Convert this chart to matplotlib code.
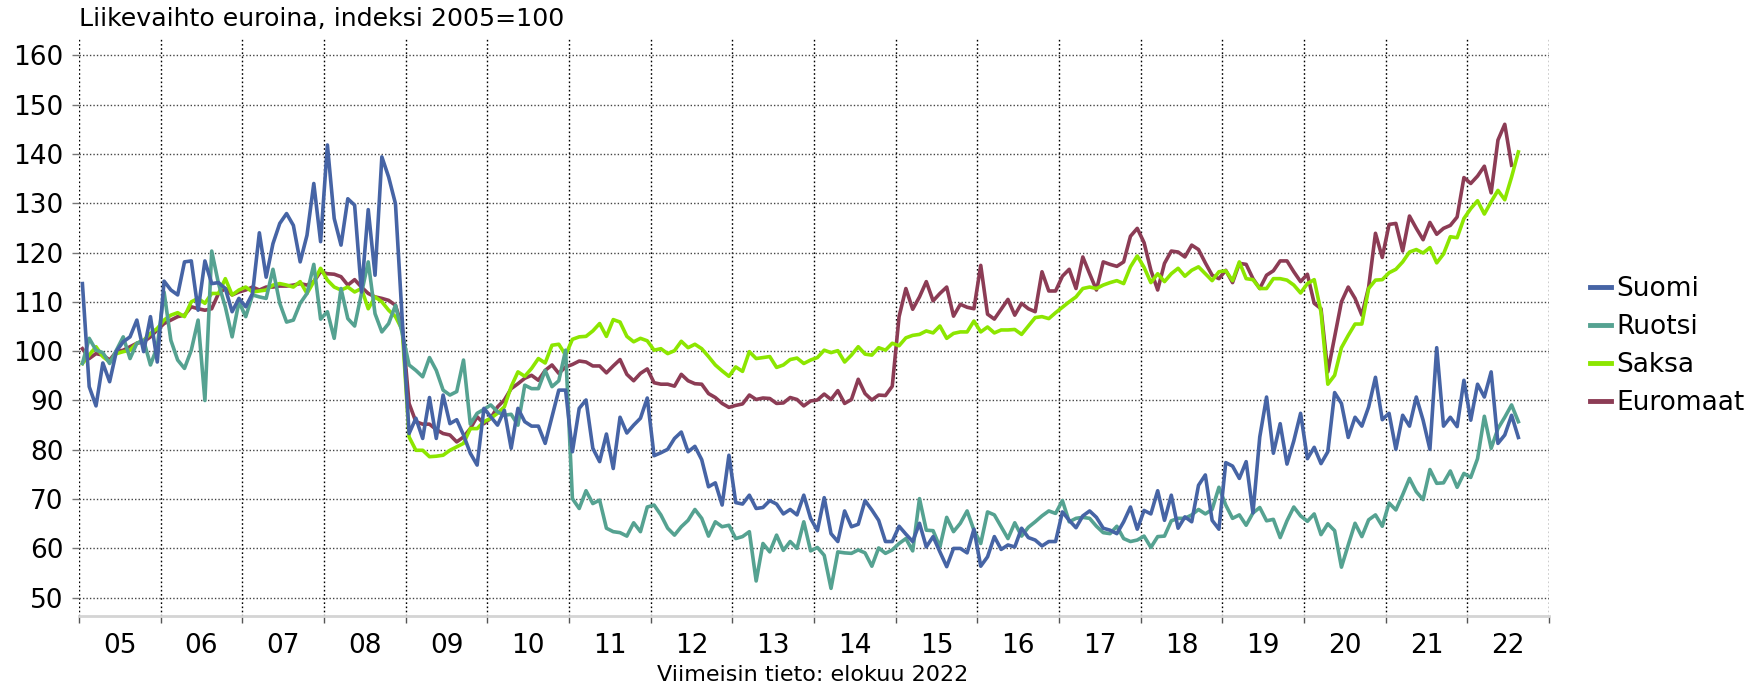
import matplotlib
matplotlib.use("Agg")
import matplotlib.pyplot as plt
import numpy as np

# Kuukausittaiset indeksit 2005/01 - 2022/08 (Euromaat 2022/07 asti)
suomi = [
    113.7, 92.8, 88.9, 97.6, 93.8, 100.0, 101.9, 102.9, 106.3, 99.9, 107.0, 97.8,
    114.2, 112.4, 111.4, 118.1, 118.3, 108.3, 118.3, 113.7, 113.9, 112.7, 108.0, 110.7,
    109.0, 111.7, 124.0, 115.0, 121.8, 125.9, 127.9, 125.5, 118.1, 123.5, 134.0, 122.2,
    141.8, 126.9, 121.5, 130.9, 129.6, 112.0, 128.7, 115.4, 139.4, 135.3, 129.9, 106.3,
    83.3, 86.4, 82.3, 90.6, 82.3, 91.1, 85.3, 86.1, 83.0, 79.3, 76.9, 88.4,
    86.7, 85.0, 88.0, 80.3, 88.4, 85.7, 84.8, 84.8, 81.3, 86.7, 92.1, 92.1,
    79.6, 88.4, 90.1, 80.3, 77.6, 83.2, 76.2, 86.6, 83.4, 85.0, 86.4, 90.5,
    78.8, 79.4, 80.1, 82.3, 83.6, 79.6, 80.7, 78.0, 72.5, 73.3, 68.8, 78.9,
    69.3, 69.0, 70.8, 68.1, 68.3, 69.7, 69.0, 67.0, 67.9, 66.8, 70.8, 66.1,
    63.6, 70.3, 63.0, 61.4, 67.6, 64.4, 64.9, 69.7, 67.8, 65.7, 61.4, 61.4,
    64.5, 62.9, 61.4, 65.1, 60.3, 62.4, 59.3, 56.3, 60.0, 60.0, 59.1, 63.9,
    56.4, 58.3, 62.4, 59.8, 60.7, 60.3, 64.1, 62.2, 61.7, 60.5, 61.4, 61.4,
    67.4, 65.7, 64.2, 66.6, 67.6, 66.3, 64.1, 63.7, 63.0, 65.4, 68.4, 63.9,
    67.7, 67.0, 71.7, 65.7, 70.8, 64.1, 66.4, 65.4, 72.8, 74.9, 65.7, 63.9,
    77.4, 76.7, 74.2, 77.6, 67.2, 82.6, 90.7, 79.3, 85.3, 77.1, 81.8, 87.4,
    78.2, 80.5, 77.2, 79.6, 91.6, 89.4, 82.5, 86.6, 84.8, 88.7, 94.7, 86.1,
    87.4, 80.1, 87.0, 84.8, 90.7, 86.0, 80.1, 100.7, 84.8, 86.6, 84.7, 94.1,
    86.0, 93.3, 90.7, 95.8, 81.3, 83.0, 87.0, 82.5,
]
ruotsi = [
    97.5, 102.6, 100.2, 99.7, 97.5, 100.2, 102.9, 98.5, 101.6, 102.2, 97.2, 100.9,
    112.0, 102.2, 98.2, 96.5, 100.2, 106.3, 90.0, 120.3, 113.7, 109.0, 102.9, 110.0,
    107.0, 111.4, 111.0, 110.7, 116.6, 109.7, 105.9, 106.3, 109.7, 111.7, 117.6, 106.5,
    108.0, 102.6, 112.7, 106.6, 105.1, 111.7, 118.1, 107.6, 103.9, 105.6, 109.3, 103.6,
    97.2, 96.1, 94.8, 98.7, 96.1, 92.1, 91.1, 91.8, 98.2, 85.2, 87.4, 88.2,
    89.1, 87.7, 87.0, 87.2, 85.0, 93.1, 92.4, 92.4, 96.1, 92.8, 94.0, 100.2,
    70.1, 68.1, 71.7, 69.1, 69.8, 64.1, 63.4, 63.2, 62.5, 65.2, 63.4, 68.4,
    68.8, 66.8, 64.1, 62.7, 64.4, 65.7, 67.9, 66.1, 62.5, 65.4, 64.4, 64.7,
    62.0, 62.4, 63.4, 53.4, 61.0, 59.3, 62.7, 59.6, 61.4, 60.0, 65.4, 59.5,
    60.2, 58.6, 51.9, 59.3, 59.1, 59.0, 59.7, 59.1, 56.4, 60.1, 59.0, 59.7,
    61.0, 62.0, 59.5, 70.1, 63.7, 63.6, 60.3, 66.3, 63.4, 65.1, 67.6, 63.7,
    61.0, 67.4, 66.8, 64.4, 62.0, 65.2, 62.5, 64.3, 65.4, 66.6, 67.6, 67.1,
    69.7, 65.4, 66.1, 66.3, 66.1, 64.5, 63.2, 63.0, 64.5, 62.0, 61.4, 61.7,
    62.5, 60.2, 62.4, 62.5, 65.6, 66.1, 66.1, 66.8, 67.9, 67.0, 67.9, 72.4,
    68.8, 66.1, 66.8, 64.7, 67.2, 68.3, 65.6, 65.9, 62.2, 65.6, 68.4, 66.6,
    65.5, 67.0, 62.8, 65.0, 63.6, 56.2, 60.7, 65.1, 62.4, 65.8, 66.8, 64.5,
    69.2, 67.8, 70.9, 74.2, 71.5, 69.9, 76.0, 73.2, 73.3, 75.7, 72.4, 75.2,
    74.4, 78.2, 86.8, 80.3, 84.3, 86.6, 89.1, 85.7,
]
saksa = [
    97.5, 99.2, 100.9, 98.9, 97.8, 99.5, 99.9, 100.2, 101.6, 102.2, 103.6, 104.6,
    106.3, 107.3, 107.8, 107.0, 110.0, 110.7, 109.7, 111.7, 111.7, 114.7, 111.4, 112.4,
    113.0, 112.0, 112.2, 112.4, 113.4, 113.7, 113.4, 113.0, 114.1, 111.7, 114.1, 116.8,
    114.4, 113.0, 112.4, 113.0, 112.0, 112.7, 108.6, 111.0, 110.0, 108.3, 107.0, 104.3,
    82.6, 79.9, 79.9, 78.6, 78.7, 78.9, 79.9, 80.6, 81.3, 84.3, 84.3, 85.7,
    86.4, 87.4, 88.7, 92.8, 95.8, 94.9, 96.5, 98.5, 97.6, 101.2, 101.4, 99.2,
    102.4, 102.9, 103.0, 104.1, 105.6, 103.0, 106.4, 105.9, 103.0, 101.9, 102.6, 102.1,
    100.2, 100.5, 99.5, 100.1, 102.0, 100.7, 101.4, 100.5, 98.9, 97.2, 96.0, 94.9,
    96.8, 95.9, 99.9, 98.5, 98.7, 98.9, 96.7, 97.2, 98.3, 98.6, 97.5, 98.2,
    98.7, 100.2, 99.7, 100.1, 97.8, 99.2, 100.9, 99.4, 99.2, 100.7, 100.2, 101.6,
    101.1, 102.7, 103.2, 103.4, 104.1, 103.7, 105.1, 102.6, 103.6, 103.9, 103.9, 106.1,
    103.9, 104.9, 103.7, 104.3, 104.3, 104.4, 103.4, 105.1, 106.8, 107.0, 106.6, 107.8,
    108.9, 110.0, 111.0, 112.7, 113.0, 112.7, 113.4, 113.9, 114.3, 113.7, 117.1, 119.3,
    117.0, 113.9, 115.7, 114.1, 115.7, 116.8, 115.2, 116.4, 117.1, 115.7, 114.3, 116.1,
    116.3, 114.3, 118.1, 114.7, 114.5, 112.7, 112.7, 114.7, 114.7, 114.4, 113.4, 111.8,
    113.7, 114.5, 107.9, 93.3, 95.1, 100.7, 103.2, 105.5, 105.5, 112.7, 114.4, 114.5,
    115.9, 116.6, 118.1, 120.1, 120.6, 119.9, 121.0, 117.9, 119.7, 123.2, 123.0, 126.9,
    128.9, 130.5, 127.8, 130.3, 132.6, 130.7, 135.3, 140.4,
]
euromaat = [
    100.5, 98.5, 99.5, 99.2, 98.2, 99.9, 100.2, 100.9, 101.6, 101.9, 102.9, 104.3,
    105.6, 106.3, 107.0, 107.3, 109.0, 108.6, 108.3, 108.6, 111.7, 112.7, 111.4, 112.0,
    112.4, 113.0, 112.4, 113.0, 113.0, 113.2, 113.2, 113.4, 113.7, 113.4, 114.1, 116.1,
    115.7, 115.6, 115.1, 113.4, 114.5, 113.0, 111.7, 111.0, 110.7, 110.3, 109.3, 104.9,
    89.4, 85.7, 85.2, 85.2, 84.1, 83.3, 83.0, 81.6, 82.6, 84.3, 86.7, 85.3,
    86.4, 88.7, 90.1, 92.4, 93.4, 94.5, 95.1, 94.1, 96.1, 97.2, 95.5, 96.8,
    97.3, 98.0, 97.8, 97.0, 97.0, 95.6, 97.0, 98.3, 95.3, 94.0, 95.5, 96.4,
    93.6, 93.3, 93.3, 92.9, 95.3, 94.0, 93.4, 93.3, 91.4, 90.6, 89.4, 88.6,
    89.0, 89.3, 91.1, 90.2, 90.5, 90.4, 89.4, 89.5, 90.6, 90.2, 88.9, 89.9,
    90.1, 91.3, 90.2, 92.0, 89.4, 90.2, 94.3, 91.4, 90.1, 91.1, 91.0, 92.9,
    107.0, 112.7, 108.5, 111.0, 114.1, 110.2, 111.7, 113.0, 107.1, 109.5, 108.9, 108.6,
    117.4, 107.5, 106.5, 108.5, 110.5, 107.3, 109.7, 108.6, 108.0, 116.1, 112.2, 112.2,
    115.2, 116.6, 112.7, 119.1, 115.7, 112.4, 118.1, 117.6, 117.2, 118.1, 123.3, 124.9,
    122.0, 116.4, 112.4, 117.8, 120.3, 120.1, 119.1, 121.5, 120.6, 117.9, 115.4, 114.7,
    116.4, 113.9, 117.8, 117.6, 114.7, 112.7, 115.4, 116.3, 118.3, 118.3, 116.1, 114.1,
    115.6, 109.7, 108.6, 95.8, 102.9, 110.0, 113.0, 110.7, 107.3, 113.0, 123.9, 119.0,
    125.7, 125.9, 120.3, 127.4, 124.9, 122.6, 126.1, 123.7, 124.9, 125.5, 127.2, 135.2,
    134.0, 135.5, 137.5, 132.1, 142.8, 146.0, 137.7,
]

sarjat = ["Suomi", "Ruotsi", "Saksa", "Euromaat"]
varit = ["#4664a5", "#55a291", "#8ce600", "#8c3c55"]
vuodet = list(range(2005, 2023))


def kuukaudet(arvot):
    # pisteet kuukauden keskelle
    k = np.arange(len(arvot))
    return 2005 + (k + 0.5) / 12


fig = plt.figure(figsize=(17.52, 6.86), dpi=100)
ax = fig.add_axes([79 / 1752, 1 - 616 / 686, 1470 / 1752, 579 / 686])

viivat = {}
data = {"Suomi": suomi, "Ruotsi": ruotsi, "Saksa": saksa, "Euromaat": euromaat}
# piirto alhaalta ylös: Euromaat alimmaisena
for z, nimi in enumerate(reversed(sarjat)):
    vari = varit[sarjat.index(nimi)]
    arvot = data[nimi]
    (viivat[nimi],) = ax.plot(kuukaudet(arvot), arvot, color=vari, lw=2.6,
                              zorder=2 + z, solid_joinstyle="round")

ax.set_xlim(2005, 2023)
ax.set_ylim(46.3, 163.7)

# vuosirajat ja vuosien nimet
ax.set_xticks(range(2005, 2024))
ax.set_xticklabels([])
ax.set_xticks([v + 0.5 for v in vuodet], minor=True)
ax.set_xticklabels([str(v)[2:] for v in vuodet], minor=True, fontsize=19)
ax.tick_params(axis="x", which="major", length=5, width=1, color="#555555")
ax.tick_params(axis="x", which="minor", length=0, pad=12)

ax.set_yticks(range(50, 161, 10))
ax.tick_params(axis="y", length=5, width=1, color="#777777", labelsize=19, pad=6)

ax.grid(axis="x", color="#000000", linestyle=(0, (1.2, 1.8)), lw=1)
ax.grid(axis="y", color="#444444", linestyle=(0, (1, 1.5)), lw=1)
ax.set_axisbelow(True)

for s in ["top", "right", "left"]:
    ax.spines[s].set_visible(False)
ax.spines["bottom"].set_color("#d4d4d4")
ax.spines["bottom"].set_linewidth(2)

fig.text(79 / 1752, 1 - 19 / 686, "Liikevaihto euroina, indeksi 2005=100",
         fontsize=18.2, ha="left", va="center")
fig.text(813 / 1752, 1 - 675 / 686, "Viimeisin tieto: elokuu 2022",
         fontsize=16, ha="center", va="center")

leg = ax.legend([viivat[n] for n in sarjat], sarjat, loc="center left",
                bbox_to_anchor=(1590 / 1752, 1 - 346 / 686),
                bbox_transform=fig.transFigure, frameon=False, fontsize=19,
                handlelength=0.8, handletextpad=0.2, labelspacing=0.45,
                borderpad=0, borderaxespad=0)
for h in leg.get_lines():
    h.set_linewidth(3.5)

fig.savefig("out.png", dpi=100)
